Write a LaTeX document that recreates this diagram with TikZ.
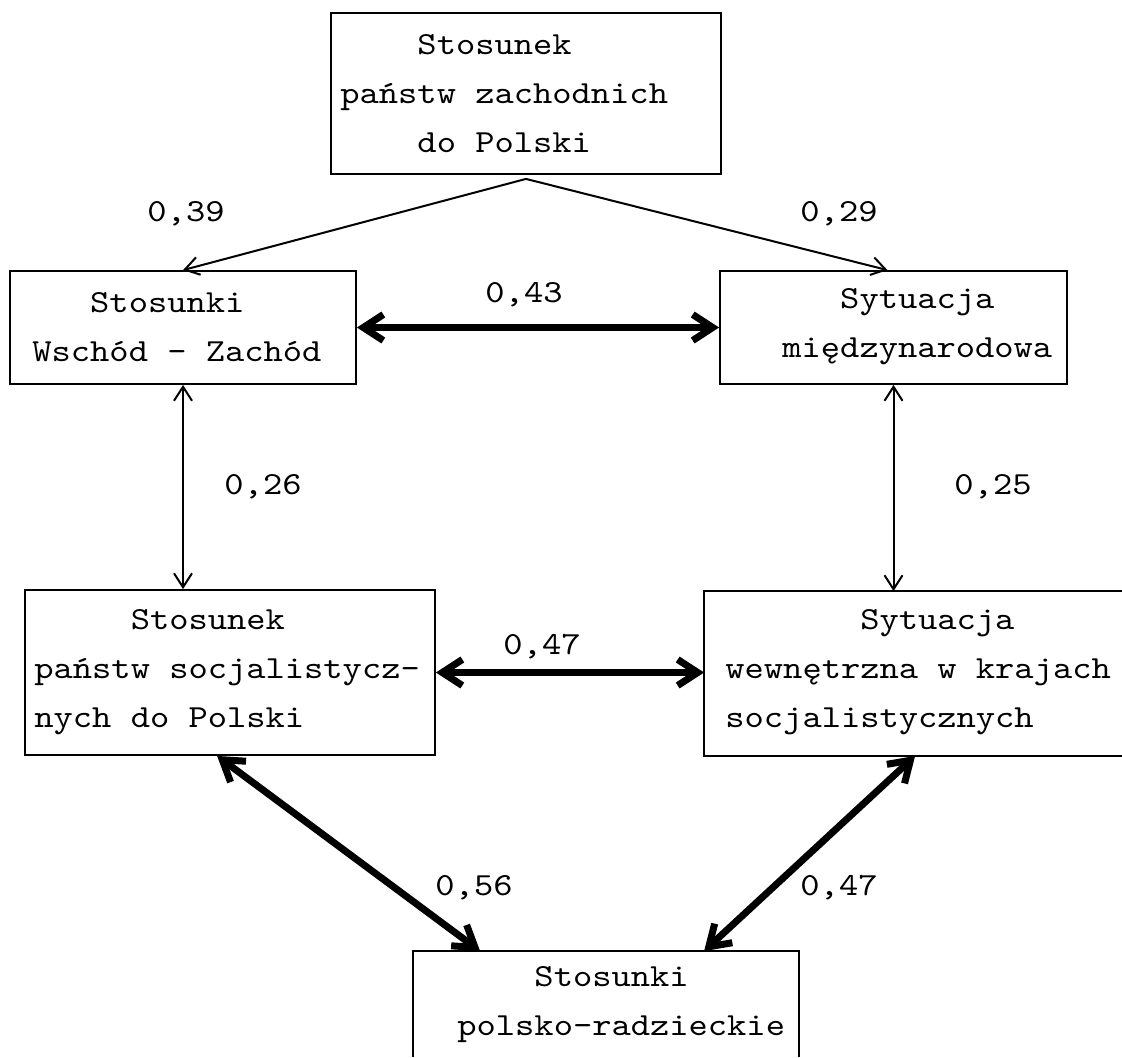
\documentclass[tikz,border=0pt]{standalone}
\usepackage{fontspec}
\newfontfamily\tw[FakeStretch=1.14]{lmmono10-regular.otf}
\usetikzlibrary{arrows.meta,calc}
\tikzstyle{block} = [rectangle, draw, line width=0.9pt, inner sep=0pt]
\tikzstyle{txt} = [align=left, inner sep=0pt, anchor=west]
\tikzstyle{num} = [inner sep=0pt]
\tikzstyle{line} = [draw, line width=1pt, -{Straight Barb[length=7pt,width=9pt]}]
\tikzstyle{both} = [draw, line width=1pt, {Straight Barb[length=7pt,width=9pt]}-{Straight Barb[length=7pt,width=9pt]}]
\tikzstyle{strong} = [draw, line width=3.5pt, {Straight Barb[length=10pt,width=13pt]}-{Straight Barb[length=10pt,width=13pt]}]
\newcommand{\ind}[1]{\hspace*{#1\fontcharwd\font`0\relax}}

\begin{document}
\begin{tikzpicture}[x=0.5pt, y=-0.5pt, font=\tw\fontsize{16.1pt}{24.5pt}\selectfont]

	\useasboundingbox (0,0) rectangle (1122,1057);
	\coordinate (edgeR) at (1122,0);
	\coordinate (edgeB) at (0,1057);

	\node [block, minimum width=195pt, minimum height=80.5pt] (top) at (526,93.5) {};
	\node [block, minimum width=173pt, minimum height=56.5pt] (wz) at (183,327.5) {};
	\node [block, minimum width=173.5pt, minimum height=56.5pt] (mdz) at (893.5,327.5) {};
	\node [block, minimum width=205pt, minimum height=82.5pt] (soc) at (230,672.5) {};
	\node [block, draw=none, minimum width=215pt, minimum height=81.5pt] (wew) at (920,673.5) {};
	\node [block, draw=none, minimum width=192pt, minimum height=53pt] (pr) at (606,1005) {};
	\draw [line width=0.9pt] (wew.north -| edgeR) -- (wew.north west) -- (wew.south west) -- (wew.south -| edgeR);
	\draw [line width=0.9pt] (pr.south west |- edgeB) -- (pr.north west) -- (pr.north east) -- (pr.south east |- edgeB);

	\node [txt] (topT) at (340,94) {\ind{4}Stosunek\\państw zachodnich\\\ind{4}do Polski};
	\node [txt] (wzT) at (32,327) {\ind{3}Stosunki\\Wschód - Zachód};
	\node [txt] (mdzT) at (782,327) {\ind{3}Sytuacja\\międzynarodowa};
	\node [txt] (socT) at (34,672) {\ind{5}Stosunek\\państw socjalistycz-\\nych do Polski};
	\node [txt] (wewT) at (725,672) {\ind{7}Sytuacja\\wewnętrzna w krajach\\socjalistycznych};
	\node [txt] (prT) at (457,1005) {\ind{4}Stosunki\\polsko-radzieckie};

	\coordinate (apex) at ([yshift=-2pt]top.south);
	\path [line] (apex) -- (wz.north);
	\path [line] (apex) -- ([xshift=-3pt]mdz.north);
	\path [strong] (wz.east) -- (mdz.west);
	\path [both] (wz.south) -- (wz.south |- soc.north);
	\path [both] (mdz.south) -- (mdz.south |- wew.north);
	\path [strong] (soc.east) -- (soc.east -| wew.west);
	\path [strong] ([xshift=96.5pt]soc.south west) -- ([xshift=33.5pt]pr.north west);
	\path [strong] ([xshift=105.5pt]wew.south west) -- ([xshift=145.5pt]pr.north west);

	\node [num] (n39) at (186,214) {0,39};
	\node [num] (n29) at (839,214) {0,29};
	\node [num] (n43) at (524,294.5) {0,43};
	\node [num] (n26) at (263,487) {0,26};
	\node [num] (n25) at (993,487) {0,25};
	\node [num] (n47a) at (542,647) {0,47};
	\node [num] (n56) at (474,888) {0,56};
	\node [num] (n47b) at (839,888) {0,47};
\end{tikzpicture}
\end{document}
